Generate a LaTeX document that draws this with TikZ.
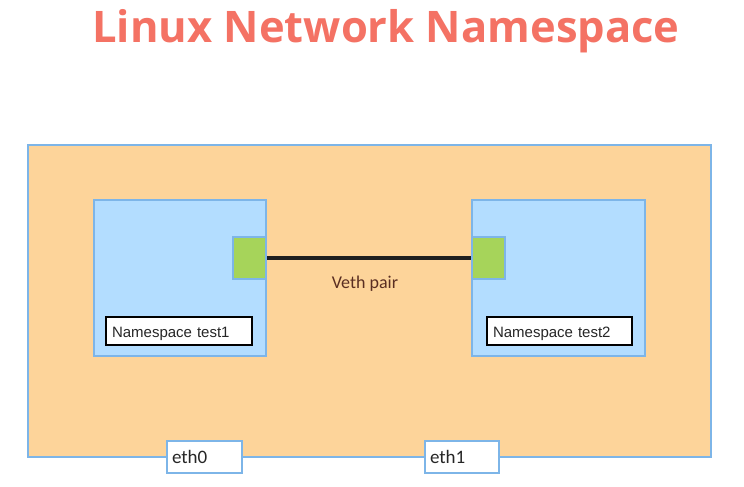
\documentclass[tikz,border=0pt]{standalone}
\usepackage{fontspec}
\setmainfont{Liberation Sans}
\newfontfamily\titlefont{Open Sans}
\newfontfamily\calfont{Carlito}
\definecolor{orangebg}{HTML}{FDD49A}
\definecolor{bluebd}{HTML}{7DB5E8}
\definecolor{bluebg}{HTML}{B3DDFF}
\definecolor{greenbg}{HTML}{A6D45A}
\definecolor{titlecol}{HTML}{F47264}
\definecolor{vethcol}{HTML}{5A2E22}
\begin{document}
\begin{tikzpicture}[x=1pt,y=-1pt,
  lbl/.style={draw=black,fill=white,line width=2pt,anchor=west,inner sep=0pt,text height=13pt,text depth=0pt,font=\fontsize{15}{17}\selectfont,text=black!85},
  eth/.style={draw=bluebd,fill=white,line width=2pt,font=\calfont\fontsize{19}{21}\selectfont,text=black!85},
  port/.style={draw=bluebd,fill=greenbg,line width=2pt,minimum width=33pt,minimum height=42pt,inner sep=0pt}]
\useasboundingbox (0,0) rectangle (744,487);
\fill[white] (0,0) rectangle (744,487);
\node[font=\titlefont\bfseries\fontsize{43.5}{50}\selectfont,text=titlecol] (title) at (386,31) {Linux Network Namespace};
\draw[fill=orangebg,draw=bluebd,line width=2pt] (28,145) rectangle (711,457);
\draw[fill=bluebg,draw=bluebd,line width=2pt] (94,200) rectangle (266,356);
\draw[fill=bluebg,draw=bluebd,line width=2pt] (472,200) rectangle (645,356);
\node[port] (g1) at (249.5,258) {};
\node[port] (g2) at (488.5,258) {};
\draw[line width=4pt,draw=black!88] (g1.east) -- (g2.west);
\node[font=\calfont\fontsize{18}{20}\selectfont,text=vethcol] (veth) at (365,284) {Veth pair};
\node[lbl,minimum width=146pt,minimum height=28pt,text width=140pt,align=left] (l1) at (105,331) {\hspace*{3pt}Namespace test1};
\node[lbl,minimum width=145pt,minimum height=28pt,text width=139pt,align=left] (l2) at (486,331) {\hspace*{3pt}Namespace test2};
\node[eth,minimum width=75pt,minimum height=32pt,inner sep=0pt,text width=69pt,align=left] (e0) at (204.5,457) {\hspace*{2pt}eth0};
\node[eth,minimum width=74pt,minimum height=32pt,inner sep=0pt,text width=68pt,align=left] (e1) at (462,457) {\hspace*{2pt}eth1};
\end{tikzpicture}
\end{document}
